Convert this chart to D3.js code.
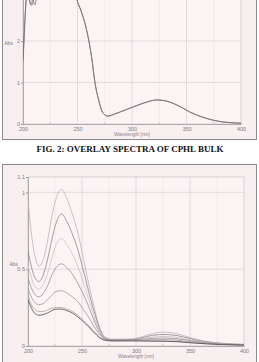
<!DOCTYPE html>
<html>
<head>
<meta charset="utf-8">
<script src="https://cdn.jsdelivr.net/npm/d3@7"></script>
<style>
  body { margin: 0; background: #fff; }
  svg { display: block; }
  .tick text { font-family: "Liberation Sans", sans-serif; }
</style>
</head>
<body>
<svg id="chart" width="259" height="362"></svg>
<script>
// ---- data ----
// top panel: overlay of two bulk scans (saturated above Abs 3)
const topWavelength = [200,201,202,203,204,205,206,207,208,209,210,211,212,214,220,230,240,246,
                       250,254,259,263,266,270,273,278,284,295,307,315,323,332,341,353,369,383,400];
const topScanA = [1.55,2.1,2.65,3.05,3.3,3.2,3.0,2.9,2.86,2.92,3.05,3.2,3.4,3.6,3.7,3.7,3.6,3.3,
                  2.95,2.67,2.19,1.6,1.0,0.52,0.28,0.19,0.24,0.35,0.47,0.54,0.58,0.55,0.46,0.29,0.13,0.05,0.02];
const topScanB = [1.5,2.05,2.6,3.0,3.25,3.1,2.95,2.88,2.93,3.02,2.93,2.87,2.98,3.5,3.7,3.7,3.6,3.3,
                  2.95,2.67,2.19,1.6,1.0,0.52,0.28,0.19,0.24,0.35,0.47,0.54,0.58,0.55,0.46,0.29,0.13,0.05,0.02];
const topYTicks = [0, 1, 2];

// bottom panel: seven concentrations
const bottomWavelength = [200,203,206,210,214,218,222,226,231,236,241,246,251,256,261,266,271,278,
                          290,300,312,325,338,350,365,380,400];
const conc1 = [0.95,0.74,0.60,0.52,0.56,0.68,0.84,0.96,1.02,0.96,0.86,0.74,0.58,0.41,0.26,0.13,0.06,0.045,
               0.045,0.05,0.075,0.09,0.08,0.055,0.03,0.018,0.01];
const conc2 = [0.62,0.52,0.45,0.42,0.46,0.56,0.69,0.80,0.86,0.81,0.73,0.63,0.50,0.36,0.23,0.12,0.055,0.04,
               0.04,0.045,0.065,0.075,0.068,0.048,0.027,0.016,0.01];
const conc3 = [0.52,0.45,0.39,0.37,0.40,0.47,0.57,0.66,0.70,0.66,0.60,0.52,0.42,0.31,0.20,0.10,0.05,0.04,
               0.04,0.043,0.055,0.062,0.056,0.04,0.024,0.015,0.009];
const conc4 = [0.44,0.38,0.34,0.32,0.34,0.39,0.46,0.51,0.535,0.51,0.47,0.41,0.34,0.26,0.17,0.09,0.05,0.04,
               0.04,0.042,0.048,0.052,0.047,0.035,0.021,0.013,0.008];
const conc5 = [0.37,0.32,0.285,0.27,0.275,0.30,0.33,0.355,0.36,0.345,0.32,0.29,0.24,0.19,0.13,0.075,0.045,0.035,
               0.037,0.038,0.04,0.042,0.038,0.028,0.018,0.011,0.007];
const conc6 = [0.33,0.27,0.24,0.225,0.225,0.235,0.245,0.25,0.25,0.24,0.225,0.20,0.17,0.135,0.095,0.06,0.04,0.035,
               0.035,0.035,0.034,0.033,0.03,0.023,0.015,0.01,0.006];
const conc7 = [0.30,0.25,0.215,0.20,0.205,0.215,0.23,0.24,0.24,0.23,0.215,0.19,0.16,0.125,0.09,0.055,0.038,0.033,
               0.033,0.033,0.032,0.031,0.028,0.021,0.014,0.009,0.006];
const bottomYTicks = [0, 0.5, 1, 1.1];

const xTicks = [200, 250, 300, 350, 400];
const xMinorTicks = [225, 275, 325, 375];
const caption = "FIG. 2: OVERLAY SPECTRA OF CPHL BULK";

const svg = d3.select("#chart");

// draws one instrument panel
function drawPanel(opt) {
  const g = svg.append("g");

  g.append("rect")
    .attr("x", 2.5).attr("y", opt.boxTop)
    .attr("width", 254).attr("height", opt.boxBottom - opt.boxTop)
    .attr("fill", "#f8eff1").attr("stroke", "#8c8c8c").attr("stroke-width", 1);

  const x = d3.scaleLinear().domain([200, 400]).range([opt.left, opt.right]);
  const y = d3.scaleLinear().domain(opt.yDomain).range([opt.bottom, opt.top]);

  // plot frame
  g.append("rect")
    .attr("x", opt.left).attr("y", opt.top)
    .attr("width", opt.right - opt.left).attr("height", opt.bottom - opt.top)
    .attr("fill", "#fbf4f5").attr("stroke", "#c9c2c4").attr("stroke-width", 0.7);

  // grid
  g.selectAll(".vminor").data(xMinorTicks).enter().append("line")
    .attr("x1", d => x(d)).attr("x2", d => x(d))
    .attr("y1", opt.top).attr("y2", opt.bottom)
    .attr("stroke", "#ede5e7").attr("stroke-width", 0.7);
  g.selectAll(".vmajor").data(xTicks.slice(1, -1)).enter().append("line")
    .attr("x1", d => x(d)).attr("x2", d => x(d))
    .attr("y1", opt.top).attr("y2", opt.bottom)
    .attr("stroke", "#ddd5d7").attr("stroke-width", 0.8);
  g.selectAll(".hgrid").data(opt.yGrid).enter().append("line")
    .attr("x1", opt.left).attr("x2", opt.right)
    .attr("y1", d => y(d)).attr("y2", d => y(d))
    .attr("stroke", "#ddd5d7").attr("stroke-width", 0.8);

  // axes
  const xAxis = d3.axisBottom(x).tickValues(xTicks).tickSize(0).tickPadding(3);
  g.append("g").attr("transform", `translate(0,${opt.bottom})`).call(xAxis)
    .call(a => a.select(".domain").attr("stroke", "#a09a9c").attr("stroke-width", 0.8))
    .call(a => a.selectAll("text").attr("font-size", 5.5).attr("fill", "#807a7c"));

  g.selectAll(".mtick").data(xMinorTicks).enter().append("line")
    .attr("x1", d => x(d)).attr("x2", d => x(d))
    .attr("y1", opt.bottom).attr("y2", opt.bottom - 2)
    .attr("stroke", "#aaa").attr("stroke-width", 0.6);

  const yAxis = d3.axisLeft(y).tickValues(opt.yTicks).tickSize(2).tickPadding(1)
    .tickFormat(d3.format("~g"));
  g.append("g").attr("transform", `translate(${opt.left},0)`).call(yAxis)
    .call(a => a.select(".domain").attr("stroke", "#a09a9c").attr("stroke-width", 0.8))
    .call(a => a.selectAll("line").attr("stroke", "#a09a9c"))
    .call(a => a.selectAll("text").attr("font-size", 5.5).attr("fill", "#807a7c"));

  g.append("text")
    .attr("x", opt.left - 10).attr("y", opt.absY)
    .attr("text-anchor", "end")
    .attr("font-family", "Liberation Sans, sans-serif")
    .attr("font-size", 5).attr("fill", "#807a7c")
    .text("Abs");

  g.append("text")
    .attr("x", (opt.left + opt.right) / 2).attr("y", opt.bottom + 12)
    .attr("text-anchor", "middle")
    .attr("font-family", "Liberation Sans, sans-serif")
    .attr("font-size", 4.8).attr("fill", "#8a8486")
    .text("Wavelength [nm]");

  // spectra
  const clipId = "clip" + opt.id;
  g.append("clipPath").attr("id", clipId).append("rect")
    .attr("x", opt.left).attr("y", opt.top)
    .attr("width", opt.right - opt.left).attr("height", opt.bottom - opt.top);

  const line = d3.line()
    .x((d, i) => x(opt.wavelength[i]))
    .y(d => y(d))
    .curve(d3.curveMonotoneX);

  g.append("g").attr("clip-path", `url(#${clipId})`)
    .selectAll("path").data(opt.series).enter().append("path")
    .attr("d", d => line(d.values))
    .attr("fill", "none")
    .attr("stroke", d => d.color)
    .attr("stroke-width", 0.8);
}

drawPanel({
  id: "top", boxTop: -2, boxBottom: 139.5,
  left: 23, right: 241, top: -42, bottom: 124,
  yDomain: [0, 4], yTicks: topYTicks, yGrid: [1, 2, 3], absY: 45,
  wavelength: topWavelength,
  series: [
    { values: topScanA, color: "#6e6769" },
    { values: topScanB, color: "#7a7375" }
  ]
});

drawPanel({
  id: "bottom", boxTop: 164.5, boxBottom: 370,
  left: 28, right: 244, top: 177, bottom: 346,
  yDomain: [0, 1.1], yTicks: bottomYTicks, yGrid: [0.5, 1], absY: 266,
  wavelength: bottomWavelength,
  series: [
    { values: conc1, color: "#bdb5b8" },
    { values: conc2, color: "#8c8588" },
    { values: conc3, color: "#c9c2c4" },
    { values: conc4, color: "#968f92" },
    { values: conc5, color: "#9e9799" },
    { values: conc6, color: "#aaa3a5" },
    { values: conc7, color: "#4d4749" }
  ]
});

svg.append("text")
  .attr("x", 130).attr("y", 152)
  .attr("text-anchor", "middle")
  .attr("font-family", "Liberation Serif, serif")
  .attr("font-weight", "bold")
  .attr("font-size", 9)
  .attr("fill", "#111")
  .text(caption);
</script>
</body>
</html>
